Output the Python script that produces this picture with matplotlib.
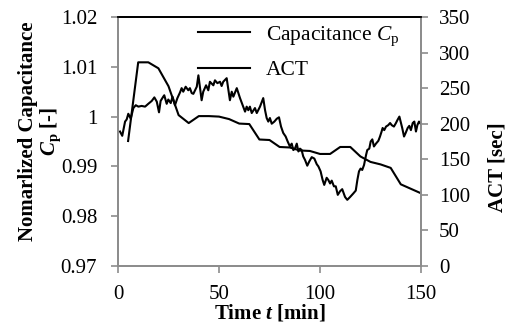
import matplotlib
matplotlib.use('Agg')
import matplotlib.pyplot as plt

plt.rcParams['font.family'] = 'Liberation Serif'
plt.rcParams['mathtext.fontset'] = 'custom'
plt.rcParams['mathtext.rm'] = 'Liberation Serif'
plt.rcParams['mathtext.it'] = 'Liberation Serif:italic'
plt.rcParams['mathtext.bf'] = 'Liberation Serif:bold'
plt.rcParams['mathtext.bfit'] = 'Liberation Serif:italic:bold'

# normalized capacitance, sampled every 5 min
cap_time = [5, 10, 15, 20, 25, 30, 35, 40, 45, 50, 55, 60, 65, 70, 75,
            80, 85, 90, 95, 100, 105, 110, 115, 120, 125, 130, 135, 140, 145, 150]
cap_value = [0.9951, 1.0109, 1.0109, 1.0097, 1.0061, 1.0003, 0.9987, 1.0001,
             1.0001, 1.0000, 0.9995, 0.9986, 0.9985, 0.9954, 0.9953, 0.9939,
             0.9938, 0.9932, 0.9931, 0.9925, 0.9925, 0.9939, 0.9939, 0.9920,
             0.9909, 0.9904, 0.9897, 0.9864, 0.9855, 0.9846]

# activated clotting time
act_time = [1.0, 2.1, 3.5, 4.3, 5.1, 6.3, 7.6, 8.8, 10.1, 11.7, 13.4, 15.0,
            16.7, 18.0, 19.2, 20.3, 21.1, 22.4, 22.9, 24.1, 24.9, 26.1, 27.0,
            28.2, 29.4, 30.7, 31.5, 32.3, 33.5, 34.8, 35.6, 36.5, 37.3, 39.0,
            39.8, 40.6, 41.4, 42.2, 43.6, 44.7, 45.5, 47.2, 48.0, 49.2, 50.5,
            51.3, 52.1, 53.8, 54.6, 55.4, 56.3, 57.1, 58.8, 60.4, 62.0, 62.9,
            63.7, 64.5, 65.3, 66.2, 67.8, 68.7, 70.3, 71.9, 72.8, 73.6, 74.4,
            75.2, 76.1, 77.4, 78.6, 79.7, 80.7, 81.8, 83.0, 84.0, 85.1, 86.0,
            86.8, 87.6, 88.5, 89.3, 90.1, 90.9, 91.7, 92.6, 93.7, 94.7, 95.9,
            97.2, 98.4, 99.2, 100.3, 101.3, 102.1, 103.3, 104.1, 105.0, 105.8,
            106.9, 107.8, 108.8, 109.9, 111.0, 112.4, 113.5, 114.9, 116.5,
            117.7, 118.5, 119.3, 120.1, 120.9, 121.8, 122.8, 123.4, 124.4,
            125.1, 125.9, 126.7, 127.7, 128.9, 129.7, 130.5, 131.0, 131.8,
            132.7, 133.8, 134.7, 135.5, 136.6, 137.6, 138.3, 139.3, 140.1,
            140.7, 141.6, 142.4, 143.4, 144.2, 145.0, 145.9, 146.7, 147.5,
            148.2, 149.0, 149.8]
act_value = [189, 183, 203, 206, 214, 207, 222, 226, 224, 225, 224, 228,
             232, 237, 231, 216, 232, 238, 240, 228, 234, 229, 238,
             226, 236, 244, 250, 245, 252, 247, 250, 243, 242, 252,
             268, 250, 233, 245, 254, 247, 259, 254, 261, 257, 259,
             253, 259, 264, 248, 233, 245, 238, 250, 236, 224, 217,
             224, 219, 224, 215, 222, 215, 224, 236, 219, 208, 203,
             208, 200, 203, 207, 209, 196, 187, 182, 175, 168, 172,
             163, 165, 172, 161, 165, 163, 154, 149, 141, 147, 153,
             151, 143, 140, 133, 121, 114, 124, 121, 116, 120,
             112, 112, 100, 105, 108, 97, 93, 97, 102,
             106, 121, 133, 137, 135, 142, 156, 163, 165,
             175, 178, 168, 172, 176, 182, 189, 194, 191,
             196, 198, 201, 198, 196, 201, 205, 210, 201,
             194, 182, 187, 194, 197, 191, 201, 203, 189,
             198, 203, 200]

x_ticks = [0, 50, 100, 150]
cap_ticks = [0.97, 0.98, 0.99, 1.00, 1.01, 1.02]
cap_tick_labels = ['0.97', '0.98', '0.99', '1', '1.01', '1.02']
act_ticks = [0, 50, 100, 150, 200, 250, 300, 350]

gray = '#8c8c8c'

fig = plt.figure(figsize=(5.08, 3.25), dpi=100)
ax = fig.add_axes([118 / 508, 1 - 266 / 325, 303 / 508, 249 / 325])
ax2 = ax.twinx()

l1, = ax.plot(cap_time, cap_value, color='black', lw=1.5,
              label=r'Capacitance $C_\mathrm{p}$')
l2, = ax2.plot(act_time, act_value, color='black', lw=1.5, label='ACT')

ax.set_xlim(0, 150)
ax.set_ylim(0.97, 1.02)
ax2.set_ylim(0, 350)
ax.set_xticks(x_ticks)
ax.set_yticks(cap_ticks)
ax.set_yticklabels(cap_tick_labels)
ax2.set_yticks(act_ticks)

for a in (ax, ax2):
    for side in ('left', 'bottom', 'right'):
        a.spines[side].set_color(gray)
        a.spines[side].set_linewidth(1.3)
    a.spines['top'].set_color('black')
    a.spines['top'].set_linewidth(1.3)

ax.tick_params(axis='x', direction='out', length=5, width=1.2, color=gray,
               labelsize=15, pad=9)
ax.tick_params(axis='y', direction='out', length=5, width=1.2, color=gray,
               labelsize=15, pad=10)
ax2.tick_params(axis='y', direction='out', length=5, width=1.2, color=gray,
                labelsize=15, pad=8)

ax.set_xlabel(r'Time $\mathbfit{t}$ [min]', fontsize=15, fontweight='bold',
              labelpad=-1.5)
ax.set_ylabel('Nomarlized Capacitance\n' + r'$\mathbfit{C}_\mathrm{\mathbf{p}}$ [-]',
              fontsize=15, fontweight='bold', linespacing=1.0)
ax.yaxis.set_label_coords(-0.182, 0.54)
ax2.set_ylabel('ACT [sec]', fontsize=15, fontweight='bold')
ax2.yaxis.set_label_coords(1.221, 0.396)

ax2.legend(handles=[l1, l2], loc='upper left', bbox_to_anchor=(198 / 508, 1 - 24 / 325),
           bbox_transform=fig.transFigure, frameon=False, fontsize=15.5,
           handlelength=2.4, handletextpad=0.75, borderpad=0, borderaxespad=0,
           labelspacing=0.6)

fig.savefig('out.png', dpi=100)
